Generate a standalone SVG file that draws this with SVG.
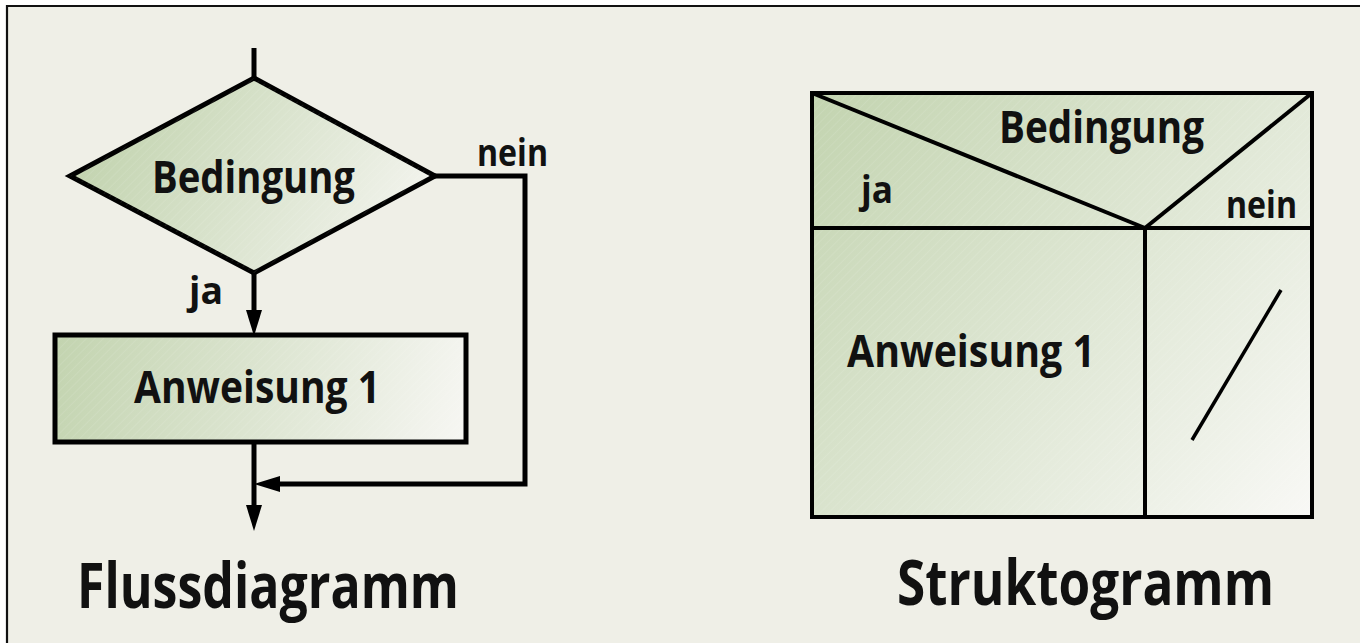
<svg xmlns="http://www.w3.org/2000/svg" width="1360" height="643" viewBox="0 0 1360 643">
  <defs>
    <style>
      .t { font-family: "Open Sans", "Liberation Sans", sans-serif; font-weight: 700; fill: #111; }
      .box { stroke: #000; stroke-width: 5; stroke-linejoin: miter; }
      .wire { fill: none; stroke: #000; stroke-width: 5; }
      .sg { fill: none; stroke: #000; stroke-width: 4; }
    </style>
    <!-- soft green-to-white fills -->
    <linearGradient id="gDiamond" gradientUnits="userSpaceOnUse" x1="110" y1="110" x2="400" y2="260">
      <stop offset="0" stop-color="#c3d4b0"/>
      <stop offset="1" stop-color="#f3f4ee"/>
    </linearGradient>
    <linearGradient id="gRect" gradientUnits="userSpaceOnUse" x1="60" y1="335" x2="460" y2="440">
      <stop offset="0" stop-color="#c3d4b0"/>
      <stop offset="1" stop-color="#f6f6f2"/>
    </linearGradient>
    <linearGradient id="gStruct" gradientUnits="userSpaceOnUse" x1="815" y1="95" x2="1310" y2="515">
      <stop offset="0" stop-color="#c3d4b0"/>
      <stop offset="1" stop-color="#f8f8f5"/>
    </linearGradient>
    <!-- faint diagonal print texture -->
    <pattern id="hatch" patternUnits="userSpaceOnUse" width="6" height="6" patternTransform="rotate(45)">
      <line x1="0" y1="0" x2="0" y2="6" stroke="#ffffff" stroke-width="1" stroke-opacity="0.18"/>
    </pattern>
    <marker id="arrow" markerUnits="userSpaceOnUse" viewBox="0 0 26 16" markerWidth="26" markerHeight="16" refX="16" refY="8" orient="auto">
      <path d="M0,0 L26,8 L0,16 z" fill="#000"/>
    </marker>
  </defs>

  <!-- page and frame -->
  <rect x="0" y="0" width="1360" height="643" fill="#ffffff"/>
  <rect x="7" y="6" width="1360" height="650" fill="#efefe7"/>
  <path d="M7,643 V6 H1360" fill="none" stroke="#111" stroke-width="2.2"/>

  <!-- Flussdiagramm -->
  <g id="connectors">
    <line class="wire" x1="254" y1="48" x2="254" y2="78"/>
    <line class="wire" x1="254" y1="273" x2="254" y2="326" marker-end="url(#arrow)"/>
    <line class="wire" x1="254" y1="442" x2="254" y2="521" marker-end="url(#arrow)"/>
    <path class="wire" d="M435,176 H525 V484 H264" stroke-linejoin="miter" marker-end="url(#arrow)"/>
  </g>

  <g id="decision">
    <polygon class="box" points="254,78 435,176 254,273 70,176" fill="url(#gDiamond)"/>
    <polygon points="254,78 435,176 254,273 70,176" fill="url(#hatch)"/>
    <text class="t" x="253.5" y="193" font-size="45" text-anchor="middle" textLength="203" lengthAdjust="spacingAndGlyphs">Bedingung</text>
  </g>

  <g id="label-ja">
    <text class="t" x="189" y="304" font-size="38" textLength="34" lengthAdjust="spacingAndGlyphs">ja</text>
  </g>
  <g id="label-nein">
    <text class="t" x="477" y="166" font-size="38" textLength="71" lengthAdjust="spacingAndGlyphs">nein</text>
  </g>

  <g id="statement">
    <rect class="box" x="55" y="335" width="411" height="107" fill="url(#gRect)"/>
    <rect x="58" y="338" width="405" height="101" fill="url(#hatch)"/>
    <text class="t" x="257" y="403" font-size="44" text-anchor="middle" textLength="246" lengthAdjust="spacingAndGlyphs">Anweisung 1</text>
  </g>

  <g id="title-flow">
    <text class="t" x="77" y="608" font-size="63" textLength="382" lengthAdjust="spacingAndGlyphs">Flussdiagramm</text>
  </g>

  <!-- Struktogramm -->
  <g id="struktogramm">
    <rect x="812" y="93" width="500" height="424" fill="url(#gStruct)"/>
    <rect x="812" y="93" width="500" height="424" fill="url(#hatch)"/>
    <rect class="sg" x="812" y="93" width="500" height="424"/>
    <line class="sg" x1="812" y1="228" x2="1312" y2="228"/>
    <line class="sg" x1="812" y1="93" x2="1145" y2="228"/>
    <line class="sg" x1="1312" y1="93" x2="1145" y2="228"/>
    <line class="sg" x1="1145" y1="228" x2="1145" y2="517"/>
    <line x1="1281" y1="290" x2="1192" y2="440" stroke="#000" stroke-width="3.5"/>
    <text class="t" x="999" y="143" font-size="44" textLength="205" lengthAdjust="spacingAndGlyphs">Bedingung</text>
    <text class="t" x="861" y="203" font-size="38" textLength="32" lengthAdjust="spacingAndGlyphs">ja</text>
    <text class="t" x="1226" y="218" font-size="38" textLength="71" lengthAdjust="spacingAndGlyphs">nein</text>
    <text class="t" x="847" y="367" font-size="44" textLength="248" lengthAdjust="spacingAndGlyphs">Anweisung 1</text>
  </g>

  <g id="title-struct">
    <text class="t" x="897" y="605" font-size="63" textLength="377" lengthAdjust="spacingAndGlyphs">Struktogramm</text>
  </g>
</svg>
